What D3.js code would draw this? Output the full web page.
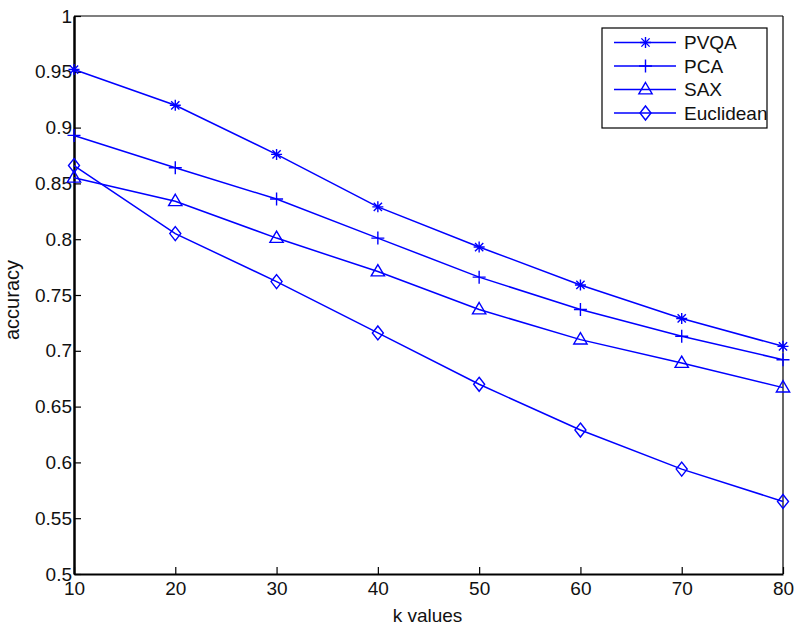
<!DOCTYPE html>
<html><head><meta charset="utf-8">
<script src="https://cdn.jsdelivr.net/npm/d3@7"></script>
<style>body{margin:0;background:#fff}text{font-family:"Liberation Sans",Arial,sans-serif;fill:#111}</style>
</head><body><svg id="c" width="800" height="628"></svg>
<script>
const kValues = [10,20,30,40,50,60,70,80];
const pvqa = [0.952,0.920,0.876,0.829,0.793,0.759,0.729,0.704];
const pca = [0.893,0.864,0.836,0.801,0.766,0.737,0.713,0.692];
const sax = [0.855,0.834,0.801,0.771,0.737,0.710,0.689,0.667];
const euclidean = [0.866,0.805,0.762,0.716,0.670,0.629,0.594,0.565];
const seriesNames = ["PVQA","PCA","SAX","Euclidean"];
const markerTypes = ["star","plus","triangle","diamond"];
const yTicks = [0.5,0.55,0.6,0.65,0.7,0.75,0.8,0.85,0.9,0.95,1];
const xTicks = [10,20,30,40,50,60,70,80];

const svg = d3.select("#c");
const L=74,R=783,T=16,B=574;
const x = d3.scaleLinear().domain([10,80]).range([L,R]);
const y = d3.scaleLinear().domain([0.5,1]).range([B,T]);
const blue = "#0000ff";
const FS = 19;

// box
svg.append("line").attr("x1",L).attr("x2",R).attr("y1",T).attr("y2",T).attr("stroke","#000").attr("stroke-width",1.2);
svg.append("line").attr("x1",R).attr("x2",R).attr("y1",T).attr("y2",B).attr("stroke","#000").attr("stroke-width",1.2);

const yAxis = svg.append("g").attr("transform",`translate(${L},0)`)
  .call(d3.axisLeft(y).tickValues(yTicks).tickSizeInner(-7).tickSizeOuter(0).tickPadding(5).tickFormat(d=>d3.format("")(+d.toFixed(2))));
yAxis.select(".domain").attr("stroke","#000").attr("stroke-width",2.5);
yAxis.selectAll(".tick line").attr("stroke","#000").attr("stroke-width",1.2);
yAxis.selectAll("text").attr("font-size",FS).attr("font-family","Liberation Sans, Arial").attr("fill","#111").attr("x",-2);

const xAxis = svg.append("g").attr("transform",`translate(0,${B})`)
  .call(d3.axisBottom(x).tickValues(xTicks).tickSizeInner(-7).tickSizeOuter(0).tickPadding(5));
xAxis.select(".domain").attr("stroke","#000").attr("stroke-width",2);
xAxis.selectAll(".tick line").attr("stroke","#000").attr("stroke-width",1.2);
xAxis.selectAll("text").attr("font-size",FS).attr("font-family","Liberation Sans, Arial").attr("fill","#111").attr("y",8);

svg.append("text").attr("x",(L+R)/2-1).attr("y",622).attr("text-anchor","middle").attr("font-size",FS).text("k values");
svg.append("text").attr("transform","translate(19,300) rotate(-90)").attr("text-anchor","middle").attr("font-size",20).text("accuracy");

function marker(g, type, cx, cy){
  const s = g.append("g").attr("transform",`translate(${cx},${cy})`).attr("fill","none").attr("stroke",blue).attr("stroke-width",1.4);
  if(type==="star"){
    const r=5.5;
    s.append("path").attr("d",`M${-r},0H${r}M0,${-r}V${r}M${-r*0.75},${-r*0.75}L${r*0.75},${r*0.75}M${-r*0.75},${r*0.75}L${r*0.75},${-r*0.75}`);
  } else if(type==="plus"){
    const r=6.5;
    s.append("path").attr("d",`M${-r},0H${r}M0,${-r}V${r}`);
  } else if(type==="triangle"){
    const r=7;
    s.append("path").attr("d",`M0,${-r}L${r*0.95},${r*0.62}L${-r*0.95},${r*0.62}Z`);
  } else {
    const w=5.5,h=7;
    s.append("path").attr("d",`M0,${-h}L${w},0L0,${h}L${-w},0Z`);
  }
}

const allSeries = [pvqa,pca,sax,euclidean];
const line = d3.line().x((d,i)=>x(kValues[i])).y(d=>y(d));
allSeries.forEach((vals,si)=>{
  const g = svg.append("g");
  g.append("path").datum(vals).attr("d",line).attr("fill","none").attr("stroke",blue).attr("stroke-width",1.5);
  vals.forEach((v,i)=>marker(g,markerTypes[si],x(kValues[i]),y(v)));
});

// legend
const lg = svg.append("g");
lg.append("rect").attr("x",602).attr("y",28).attr("width",165).attr("height",100).attr("fill","#fff").attr("stroke","#000").attr("stroke-width",1.2);
const rowY = [42.5,66,89.5,113];
seriesNames.forEach((n,i)=>{
  lg.append("line").attr("x1",614).attr("x2",676).attr("y1",rowY[i]).attr("y2",rowY[i]).attr("stroke",blue).attr("stroke-width",1.5);
  marker(lg,markerTypes[i],645.5,rowY[i]);
  lg.append("text").attr("x",684).attr("y",rowY[i]).attr("dy","0.36em").attr("font-size",FS).text(n);
});
</script></body></html>
